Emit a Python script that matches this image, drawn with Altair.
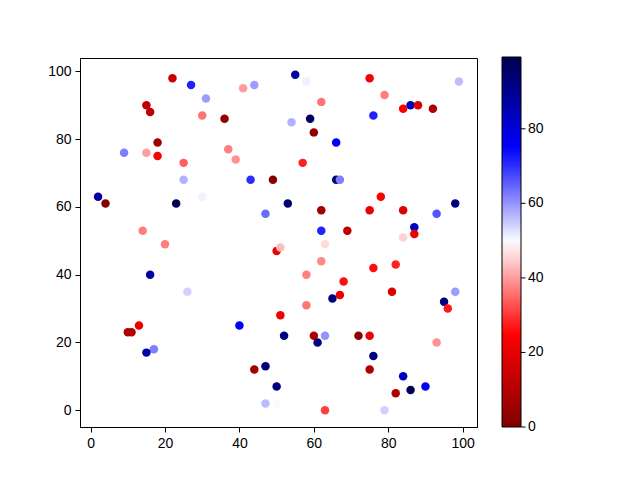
import altair as alt
import pandas as pd

xs = [22, 27, 31, 41, 44, 15, 16, 30, 36, 18, 18, 9, 15, 37, 39, 25, 25, 43, 49, 2,
      4, 23, 30, 47, 14, 20, 55, 58, 75, 99, 62, 79, 59, 54, 60, 76, 84, 86, 88, 92,
      66, 57, 66, 67, 53, 62, 78, 75, 84, 98, 93, 62, 69, 87, 87, 84, 63, 50, 51, 16,
      26, 13, 10, 11, 17, 15, 40, 44, 47, 50, 47, 50, 51, 52, 62, 58, 68, 76, 82, 65,
      67, 58, 81, 95, 96, 98, 60, 61, 63, 72, 75, 76, 75, 93, 84, 82, 86, 90, 63, 79]
ys = [98, 96, 92, 95, 96, 90, 88, 87, 86, 79, 75, 76, 76, 77, 74, 73, 68, 68, 68, 63,
      61, 61, 63, 58, 53, 49, 99, 97, 98, 97, 91, 93, 86, 85, 82, 87, 89, 90, 90, 89,
      79, 73, 68, 68, 61, 59, 63, 59, 59, 61, 58, 53, 53, 54, 52, 51, 49, 47, 48, 40,
      35, 25, 23, 23, 18, 17, 25, 12, 13, 7, 2, 2, 28, 22, 44, 40, 38, 42, 43, 33,
      34, 31, 35, 32, 30, 35, 22, 20, 22, 22, 22, 16, 12, 20, 10, 5, 6, 7, 0, 0]
cs = [15, 71, 59, 40, 59, 12, 12, 36, 3, 6, 24, 62, 40, 37, 39, 34, 57, 70, 1, 87,
      1, 98, 51, 64, 37, 37, 87, 51, 24, 56, 36, 37, 96, 57, 3, 71, 24, 85, 18, 9,
      76, 28, 93, 62, 95, 6, 24, 21, 18, 92, 66, 71, 12, 83, 21, 45, 46, 21, 43, 87,
      54, 21, 9, 9, 62, 87, 75, 6, 93, 92, 56, 49, 21, 92, 38, 37, 26, 26, 28, 92,
      21, 36, 18, 92, 27, 59, 9, 92, 60, 3, 21, 92, 9, 39, 83, 9, 98, 75, 31, 54]
cbar_ticks = [0, 20, 40, 60, 80]

df = pd.DataFrame({"x": xs, "y": ys, "c": cs, "order": list(range(len(xs)))})
tick_df = pd.DataFrame({"v": cbar_ticks})

xmin, xmax = min(xs), max(xs)
ymin, ymax = min(ys), max(ys)
mx = (xmax - xmin) * 0.05
my = (ymax - ymin) * 0.05
cmax = 99

ticks = [0, 20, 40, 60, 80, 100]
FONT = "Liberation Sans"

points = alt.Chart(df).mark_circle(size=72, opacity=1).encode(
    x=alt.X("x:Q", scale=alt.Scale(domain=[xmin - mx, xmax + mx], nice=False, zero=False),
            axis=alt.Axis(values=ticks, title=None, grid=False)),
    y=alt.Y("y:Q", scale=alt.Scale(domain=[ymin - my, ymax + my], nice=False, zero=False),
            axis=alt.Axis(values=ticks, title=None, grid=False)),
    color=alt.Color("c:Q",
                    scale=alt.Scale(domain=[0, cmax * 0.25, cmax * 0.5, cmax * 0.75, cmax],
                                    range=["#800000", "#ff0000", "#ffffff", "#0000ff", "#00004d"],
                                    interpolate="rgb"),
                    legend=alt.Legend(title=None, orient="none", legendX=422, legendY=-1,
                                      direction="vertical", gradientLength=370,
                                      gradientThickness=19, gradientStrokeColor="black",
                                      gradientStrokeWidth=1, values=[0, cmax],
                                      labelExpr="''")),
    order="order:Q",
)

cscale = alt.Scale(domain=[0, cmax], nice=False, zero=False)

cticks = alt.Chart(tick_df).mark_rule(color="black", strokeWidth=1).encode(
    x=alt.value(441), x2=alt.value(445.5),
    y=alt.Y("v:Q", scale=cscale, axis=None),
)

clabels = alt.Chart(tick_df).mark_text(align="left", baseline="middle", font=FONT,
                                       fontSize=14, color="black").encode(
    x=alt.value(448),
    y=alt.Y("v:Q", scale=cscale, axis=None),
    text=alt.Text("v:Q"),
)

chart = alt.layer(points, cticks, clabels).resolve_scale(y="independent").properties(
    width=397, height=369,
    autosize=alt.AutoSizeParams(type="none"),
    padding={"left": 72, "top": 50, "right": 155, "bottom": 45},
).configure_view(
    stroke="black", strokeWidth=1
).configure_axis(
    domainColor="black", tickColor="black", labelColor="black",
    labelFont=FONT, labelFontSize=14, tickSize=5, labelPadding=4,
    domainWidth=1, tickWidth=1,
)

chart.save("out.html", embed_options={"renderer": "svg", "actions": False})
